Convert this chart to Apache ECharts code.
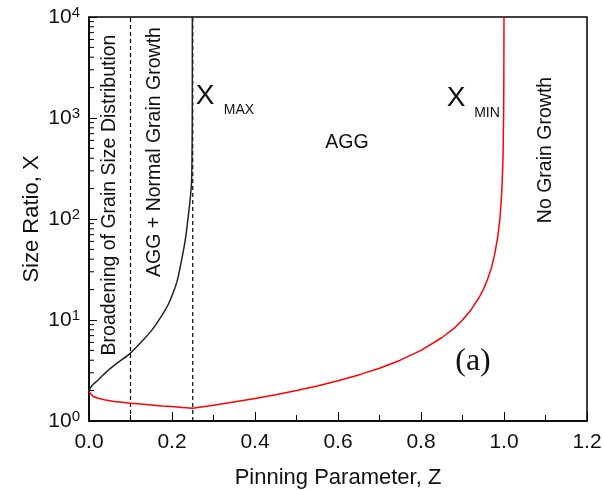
<!DOCTYPE html>
<html>
<head>
<meta charset="utf-8">
<script src="https://cdn.jsdelivr.net/npm/echarts@6/dist/echarts.min.js"></script>
<style>html,body{margin:0;padding:0;background:#fff;}#c{width:603px;height:491px;}</style>
</head>
<body>
<div id="c"></div>
<script>
// X_MIN curve (red): [Z, X]
const xMinCurve = [
  [0, 2.0], [0.002, 1.9], [0.005, 1.82], [0.01, 1.75], [0.022, 1.68], [0.04, 1.61],
  [0.06, 1.56], [0.08, 1.53], [0.10, 1.50], [0.125, 1.47], [0.151, 1.44], [0.175, 1.41],
  [0.199, 1.39], [0.225, 1.36], [0.25, 1.34],
  [0.30, 1.43], [0.352, 1.55], [0.40, 1.67], [0.45, 1.82], [0.50, 2.0], [0.55, 2.22],
  [0.60, 2.5], [0.65, 2.86], [0.70, 3.33], [0.75, 4.0], [0.80, 5.0], [0.85, 6.67],
  [0.88, 8.3], [0.90, 10], [0.92, 12.5], [0.94, 16.7], [0.95, 20], [0.96, 25],
  [0.97, 33], [0.978, 46], [0.985, 67], [0.99, 100], [0.993, 143], [0.995, 200],
  [0.997, 333], [0.998, 500], [0.999, 1000], [0.9995, 2000], [0.9998, 5000], [0.9999, 10000]
];
// X_MAX curve (black): [Z, X]
const xMaxCurve = [
  [0, 2.0], [0.005, 2.18], [0.012, 2.35], [0.022, 2.55], [0.034, 2.85], [0.047, 3.2],
  [0.07, 3.8], [0.10, 4.7], [0.125, 6.0], [0.151, 7.9], [0.175, 11], [0.19, 14],
  [0.199, 17], [0.212, 24], [0.223, 39], [0.232, 62], [0.239, 105], [0.244, 160],
  [0.247, 226], [0.2482, 400], [0.2488, 1000], [0.249, 3000], [0.249, 10000]
];
// dashed boundaries (Z positions)
const boundaryZ = [0.1, 0.25];
// y range and minor ticks
const yMin = 1, yMax = 10000;
const yMinorTicks = [];
[1, 10, 100, 1000].forEach(d => { for (let k = 2; k <= 9; k++) yMinorTicks.push(d * k); });
// annotation texts
const txtBroad = 'Broadening of Grain Size Distribution';
const txtAggNormal = 'AGG + Normal Grain Growth';
const txtAgg = 'AGG';
const txtNoGrowth = 'No Grain Growth';
const txtPanel = '(a)';
const xTitle = 'Pinning Parameter, Z';
const yTitle = 'Size Ratio, X';

const FONT = '"Liberation Sans", Arial, sans-serif';
const TXT = '#111';

const chart = echarts.init(document.getElementById('c'), null, {renderer: 'canvas'});

const series = [];
boundaryZ.forEach(z => {
  series.push({
    type: 'line', data: [[z, yMin], [z, yMax]], symbol: 'none', silent: true, z: 2,
    lineStyle: {color: '#000', width: 1.2, type: [4, 3]}
  });
});
series.push({
  type: 'line', data: xMaxCurve, symbol: 'none', smooth: 0.3, z: 3,
  lineStyle: {color: '#222', width: 1.5}
});
series.push({
  type: 'line', data: xMinCurve, symbol: 'none', smooth: false, z: 4,
  lineStyle: {color: '#ff0000', width: 1.5}
});
// y minor ticks (inside) drawn at log positions
series.push({
  type: 'custom', silent: true, z: 5,
  data: yMinorTicks.map(v => [0, v]),
  renderItem: function (params, api) {
    const p = api.coord([0, api.value(1)]);
    return {type: 'line', shape: {x1: p[0], y1: p[1], x2: p[0] + 5, y2: p[1]},
      style: {stroke: '#000', lineWidth: 1}};
  }
});

chart.setOption({
  animation: false,
  backgroundColor: '#fff',
  grid: {left: 89, right: 16, top: 17, bottom: 70, show: true, borderColor: '#000', borderWidth: 1.5,
    containLabel: false, outerBoundsMode: 'none'},
  xAxis: {
    type: 'value', min: 0, max: 1.2, interval: 0.2,
    name: xTitle, nameLocation: 'middle', nameGap: 46, nameMoveOverlap: false,
    nameTextStyle: {fontFamily: FONT, fontSize: 22, color: TXT},
    axisLine: {show: true, lineStyle: {color: '#000', width: 1.5}},
    axisTick: {show: true, inside: true, length: 9, lineStyle: {color: '#000', width: 1}},
    minorTick: {show: true, splitNumber: 2, length: 6, lineStyle: {color: '#000', width: 1}},
    splitLine: {show: false},
    axisLabel: {fontFamily: FONT, fontSize: 21, color: TXT, margin: 11,
      formatter: v => v.toFixed(1)}
  },
  yAxis: {
    type: 'log', logBase: 10, min: yMin, max: yMax,
    name: yTitle, nameLocation: 'middle', nameGap: 46, nameMoveOverlap: false,
    nameTextStyle: {fontFamily: FONT, fontSize: 22, color: TXT},
    axisLine: {show: true, lineStyle: {color: '#000', width: 1.5}},
    axisTick: {show: true, inside: true, length: 8, lineStyle: {color: '#000', width: 1}},
    splitLine: {show: false},
    axisLabel: {
      margin: 9,
      formatter: function (v) {
        const e = Math.round(Math.log10(v));
        return '{b|10}{s|' + e + '}';
      },
      rich: {
        b: {fontFamily: FONT, fontSize: 21, color: TXT, lineHeight: 24},
        s: {fontFamily: FONT, fontSize: 15, color: TXT, lineHeight: 15, verticalAlign: 'top'}
      }
    }
  },
  series: series,
  graphic: [
    {type: 'text', x: 110, y: 195, rotation: Math.PI / 2,
      style: {text: txtBroad, font: '19.5px ' + FONT, fill: TXT, align: 'center', verticalAlign: 'middle'}},
    {type: 'text', x: 155, y: 152, rotation: Math.PI / 2,
      style: {text: txtAggNormal, font: '19.5px ' + FONT, fill: TXT, align: 'center', verticalAlign: 'middle'}},
    {type: 'text', x: 546, y: 150, rotation: Math.PI / 2,
      style: {text: txtNoGrowth, font: '19.5px ' + FONT, fill: TXT, align: 'center', verticalAlign: 'middle'}},
    {type: 'text', x: 347, y: 143,
      style: {text: txtAgg, font: '19.5px ' + FONT, fill: TXT, align: 'center', verticalAlign: 'middle'}},
    {type: 'text', x: 205, y: 96,
      style: {text: 'X', font: '28px ' + FONT, fill: TXT, align: 'center', verticalAlign: 'middle'}},
    {type: 'text', x: 239, y: 110,
      style: {text: 'MAX', font: '14px ' + FONT, fill: TXT, align: 'center', verticalAlign: 'middle'}},
    {type: 'text', x: 456, y: 98,
      style: {text: 'X', font: '28px ' + FONT, fill: TXT, align: 'center', verticalAlign: 'middle'}},
    {type: 'text', x: 487, y: 113,
      style: {text: 'MIN', font: '14px ' + FONT, fill: TXT, align: 'center', verticalAlign: 'middle'}},
    {type: 'text', x: 473, y: 362,
      style: {text: txtPanel, font: '32px "Liberation Serif", "Times New Roman", serif', fill: TXT, align: 'center', verticalAlign: 'middle'}}
  ]
});
</script>
</body>
</html>
